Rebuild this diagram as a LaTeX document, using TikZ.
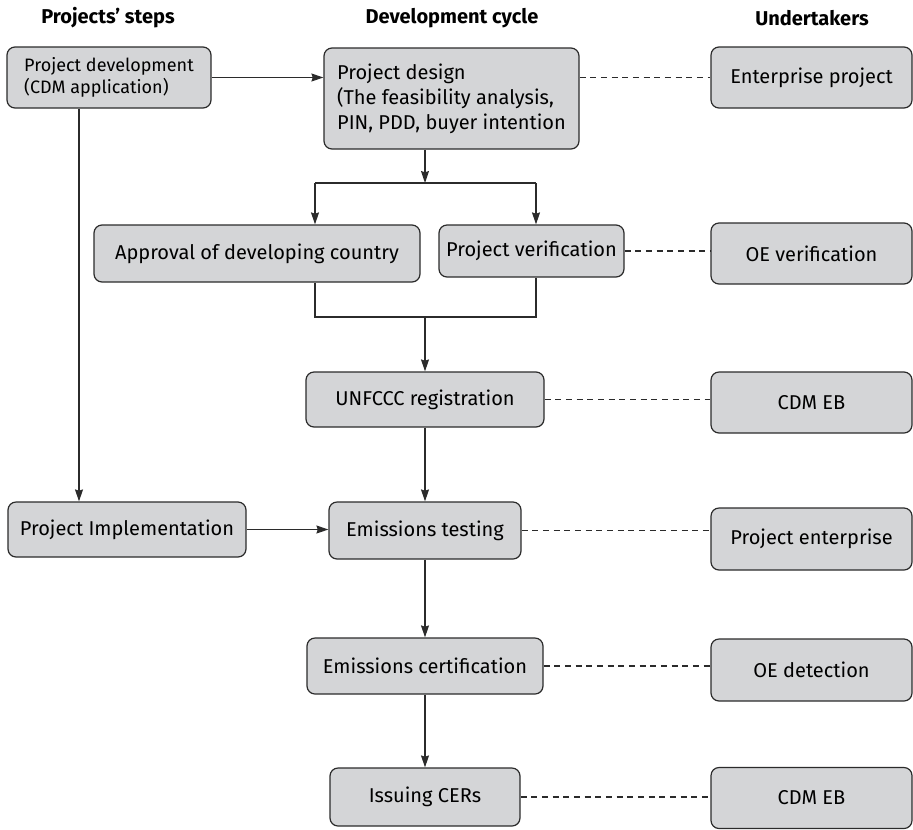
\documentclass[tikz,border=0pt]{standalone}
\usepackage{fontspec}
\setmainfont{Fira Sans}
\usetikzlibrary{arrows.meta, positioning}
\definecolor{cbox}{HTML}{D4D5D7}
\definecolor{cline}{HTML}{2B2B2B}
\tikzset{
  every picture/.style={line width=0.9pt},
  box/.style={draw=cline, fill=cbox, rounded corners=6pt, align=center, inner sep=2pt,
    font=\fontsize{15}{18.75}\selectfont},
  title/.style={font=\fontsize{15}{18}\selectfont\bfseries},
  arrow/.style={-{Stealth[length=9pt, width=6pt, inset=1pt]}, draw=cline},
  link/.style={draw=cline},
  dashline/.style={draw=cline, dash pattern=on 4.5pt off 3.5pt},
}

\begin{document}
\begin{tikzpicture}[x=0.75pt, y=-0.75pt]
  \useasboundingbox (0,0) rectangle (913,829);
  % column titles
  \node[title] (tsteps) at (108,18) {Projects’ steps};
  \node[title] (tcycle) at (452,18) {Development cycle};
  \node[title] (tunder) at (812,18) {Undertakers};

  % projects' steps
  \node[box, align=left, minimum width=153pt, minimum height=45.75pt,
    font=\fontsize{13.5}{16.5}\selectfont] (pdev) at (109,77.5) {Project development\\(CDM application)};
  \node[box, minimum width=178.5pt, minimum height=41.25pt] (pimpl) at (127,529.5) {Project Implementation};

  % development cycle
  \node[box, align=left, minimum width=191.25pt, minimum height=75.75pt] (pdes) at (451.5,98.5)
    {Project design\\(The feasibility analysis,\\PIN, PDD, buyer intention};
  \node[box, minimum width=244.5pt, minimum height=42.75pt] (appr) at (257,253.5) {Approval of developing country};
  \node[box, minimum width=138.75pt, minimum height=39pt] (pver) at (531.5,251) {Project verification};
  \node[box, minimum width=178.5pt, minimum height=41.25pt] (unfccc) at (425,399.5) {UNFCCC registration};
  \node[box, minimum width=144pt, minimum height=42.75pt] (etest) at (425,530.5) {Emissions testing};
  \node[box, minimum width=177pt, minimum height=42pt] (ecert) at (425,666) {Emissions certification};
  \node[box, minimum width=142.5pt, minimum height=43.5pt] (cers) at (425,797) {Issuing CERs};

  % undertakers
  \node[box, minimum width=150.75pt, minimum height=45.75pt] (entp) at (811.5,77.5) {Enterprise project};
  \node[box, minimum width=150.75pt, minimum height=45.75pt] (oever) at (811.5,253.5) {OE verification};
  \node[box, minimum width=150.75pt, minimum height=45.75pt] (cdmeba) at (811.5,402.5) {CDM EB};
  \node[box, minimum width=150.75pt, minimum height=46.5pt] (pent) at (811.5,539) {Project enterprise};
  \node[box, minimum width=150.75pt, minimum height=46.5pt] (oedet) at (811.5,670) {OE detection};
  \node[box, minimum width=150.75pt, minimum height=45.75pt] (cdmebb) at (811.5,798) {CDM EB};

  % branch points
  \coordinate (lane) at (79,0);
  \coordinate (split) at (425,183);
  \coordinate (bl) at (315,183);
  \coordinate (br) at (536,183);
  \coordinate (join) at (425,317);

  % flow
  \draw[arrow] (pdev.east) -- (pdev.east -| pdes.west);
  \draw[arrow] (pdev.south -| lane) -- (pimpl.north -| lane);
  \draw[arrow] (pdes.south -| split) -- (split);
  \draw[link] (bl) -- (br);
  \draw[arrow] (bl) -- (bl |- appr.north);
  \draw[arrow] (br) -- (br |- pver.north);
  \draw[link] (appr.south -| bl) |- (join);
  \draw[link] (pver.south -| br) |- (join);
  \draw[arrow] (join) -- (unfccc.north);
  \draw[arrow] (unfccc) -- (etest);
  \draw[arrow] (pimpl.east) -- (pimpl.east -| etest.west);
  \draw[arrow] (etest) -- (ecert);
  \draw[arrow] (ecert) -- (cers);

  % who does it
  \draw[dashline] (pdes.east |- pdev.east) -- (pdev.east -| entp.west);
  \draw[dashline] (pver.east) -- (pver.east -| oever.west);
  \draw[dashline] (unfccc.east) -- (unfccc.east -| cdmeba.west);
  \draw[dashline] (etest.east) -- (etest.east -| pent.west);
  \draw[dashline] (ecert.east) -- (ecert.east -| oedet.west);
  \draw[dashline] (cers.east) -- (cers.east -| cdmebb.west);
\end{tikzpicture}
\end{document}
